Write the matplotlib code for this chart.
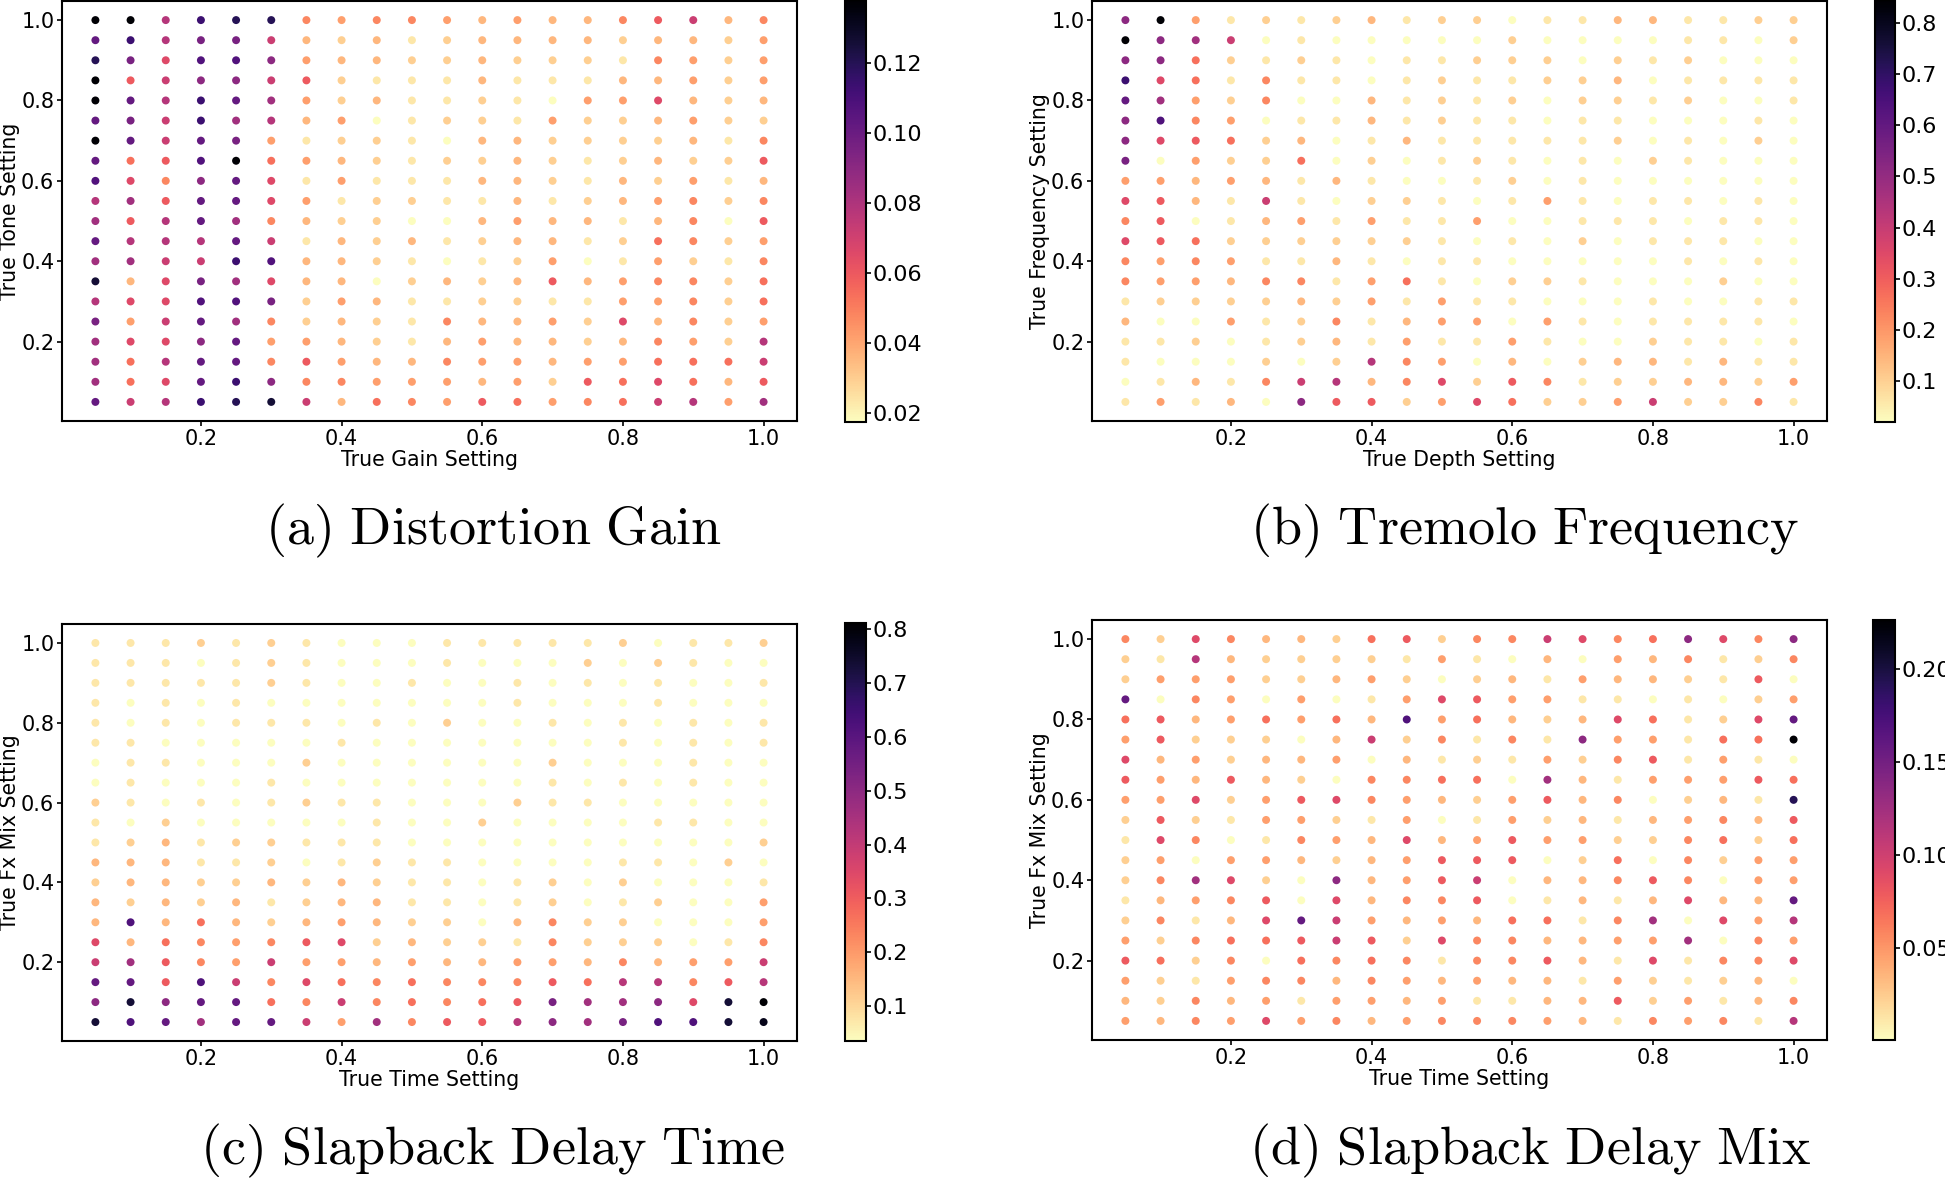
import numpy as np
import matplotlib.pyplot as plt
from matplotlib.ticker import MultipleLocator, FormatStrFormatter

plt.rcParams['mathtext.fontset'] = 'cm'

W, H = 1945, 1180

# knob settings on both axes (20 x 20 grid)
settings = [0.05, 0.10, 0.15, 0.20, 0.25, 0.30, 0.35, 0.40, 0.45, 0.50,
            0.55, 0.60, 0.65, 0.70, 0.75, 0.80, 0.85, 0.90, 0.95, 1.00]

# colour level read off each dot: '0' = lightest end of the bar, 'K' = darkest,
# in steps of 1/20 of the colorbar range. rows go top (1.0) to bottom (0.05)
LEVELS = '0123456789ABCDEFGHIJK'

gain_rows = [
    'KKAGHH54554343357935', 'EGADD932312333323324', 'HD8FFC43322322215424',
    'K79CC972111311133424', 'KEAGEB42311210448323', 'ED9GBA34012214223422',
    'KE9ED412210332222315', 'E67FK643212232123227', 'F85CE814111332132413',
    'AB7EE841221131234525', 'B7AEB532200343313507', 'EAAAE913231233126524',
    'BB99GF33210124014215', 'I38DB833023237345526', 'A88FFD24311221144526',
    'D49EB523215334283524', 'B88CE44321343323542A', 'B6AEE574335443446669',
    'B68EGC55444342768637', 'E9AGHI93654764569A4B',
]
tremolo_rows = [
    'CK412123122011331122', 'KCB90100000200001102', 'CC621210112220212000',
    'G8615110121122301111', 'EB425003121202212001', 'CF540113121101100010',
    'C8762301311111201020', 'D0422602012101021000', '44343131001201000000',
    '87319102210141011010', '57013414114001110110', '87622222210102011100',
    '54541131011000001010', '54435514610221000200', '12222324141100010011',
    '30041251344041011110', '11201231411410021101', '1000202A540302331311',
    '013159A3582751223324', '14130C77248622492251',
]
time_rows = [
    '11121210001111120112', '11101210001000202100', '11111210010010101001',
    '10101000000010001000', '10101110102001010101', '11000001000000010101',
    '01100020000002000100', '01000100000001010100', '21010121100021100000',
    '10200000100200001100', '12312211100000000002', '33311201211000011020',
    '23322323211012020001', '32323123311012012004', '3F363234322035220004',
    '83654578232215222015', '9B754944343344353449', 'EE7F95865655576AA57A',
    'CICEE65956567DBBC8IK', 'IFEBEE94B577ACBDFFIJ',
]
mix_rows = [
    '5285332672559856C85C', '21A32222141030435125', '24442234202314332170',
    'E0540401487441101024', '67346463F4632386128E', '4722203925151C44166K',
    '83423340312142571410', '743732055660B3144476', '4482478543247350231H',
    '27214421401423134537', '18501543834744225626', '24044323477702605244',
    '25B820C3479033575044', '1345708355701313833E', '25138E943436615B084A',
    '4256679728553344B054', '76250656515573181558', '42145535434331421230',
    '32534144341133724135', '4354845345554315451A',
]

# colorbar limits and tick steps
gain_range = (0.0174, 0.138)
tremolo_range = (0.02, 0.845)
time_range = (0.035, 0.812)
mix_range = (0.0005, 0.2265)
cbar_steps = [0.02, 0.1, 0.1, 0.05]
cbar_fmt = ['%.2f', '%.1f', '%.1f', '%.2f']

xlabels = ['True Gain Setting', 'True Depth Setting', 'True Time Setting', 'True Time Setting']
ylabels = ['True Tone Setting', 'True Frequency Setting', 'True Fx Mix Setting', 'True Fx Mix Setting']
captions = ['(a)\\ Distortion\\ Gain', '(b)\\ Tremolo\\ Frequency',
            '(c)\\ Slapback\\ Delay\\ Time', '(d)\\ Slapback\\ Delay\\ Mix']


def to_values(rows, rng):
    lo, hi = rng
    lv = np.array([[LEVELS.index(c) for c in r] for r in rows], dtype=float)
    return lo + (hi - lo) * lv / 20.0


def box(l, t, r, b):
    return [l / W, 1 - b / H, (r - l) / W, (b - t) / H]


fig = plt.figure(figsize=(W / 100, H / 100), dpi=100)

panels = [
    (gain_rows, gain_range, (62, 1, 797, 421), (845, 0, 866, 422), (493, 531)),
    (tremolo_rows, tremolo_range, (1092, 1, 1827, 421), (1875, 0, 1895, 422), (1525, 531)),
    (time_rows, time_range, (62, 624, 797, 1041), (845, 623, 866, 1041), (493, 1151)),
    (mix_rows, mix_range, (1092, 620, 1827, 1040), (1873, 620, 1895, 1040), (1530, 1151)),
]

ys = settings[::-1]
for i, (rows, rng, abox, cbox, cap) in enumerate(panels):
    vals = to_values(rows, rng)
    xx, yy = np.meshgrid(settings, ys)
    ax = fig.add_axes(box(*abox))
    sc = ax.scatter(xx.ravel(), yy.ravel(), c=vals.ravel(), cmap='magma_r',
                    vmin=rng[0], vmax=rng[1], s=33, linewidths=0)
    ax.set_xticks([0.2, 0.4, 0.6, 0.8, 1.0])
    ax.set_yticks([0.2, 0.4, 0.6, 0.8, 1.0])
    ax.set_xlim(0.0025, 1.0475)
    ax.set_ylim(0.0025, 1.0475)
    ax.tick_params(labelsize=15, width=1.2, length=3.5, pad=2)
    for sp in ax.spines.values():
        sp.set_linewidth(1.5)
    ax.set_xlabel(xlabels[i], fontsize=14.8, labelpad=1)
    ax.set_ylabel(ylabels[i], fontsize=14.8, labelpad=1)

    cax = fig.add_axes(box(*cbox))
    cb = fig.colorbar(sc, cax=cax)
    cb.ax.yaxis.set_major_locator(MultipleLocator(cbar_steps[i]))
    cb.ax.yaxis.set_major_formatter(FormatStrFormatter(cbar_fmt[i]))
    cb.ax.tick_params(labelsize=16, width=1.2, length=3.5, pad=1.5)
    cb.outline.set_linewidth(1.5)

    fig.text(cap[0] / W, 1 - cap[1] / H, '$\\mathrm{' + captions[i] + '}$',
             fontsize=39, ha='center', va='center')

fig.savefig('out.png', dpi=100)
